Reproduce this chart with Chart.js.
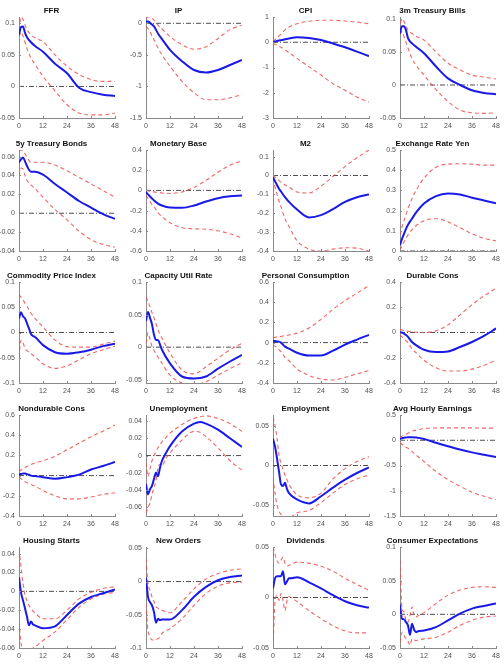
<!DOCTYPE html>
<html>
<head>
<meta charset="utf-8">
<script src="https://cdn.jsdelivr.net/npm/chart.js@4.4.1/dist/chart.umd.min.js"></script>
<style>
  html, body { margin: 0; padding: 0; background: #fff; }
  #page { position: relative; width: 504px; height: 672px; overflow: hidden; background: #fff; }
  #page canvas { position: absolute; }
</style>
</head>
<body>
<div id="page"></div>
<script>
// horizons (months) used for the sampled points
const monthsA = [0, 1, 2, 3, 4, 6, 8, 12, 18, 24, 30, 36, 42, 48];
const monthsB = [0, 1, 2, 3, 4, 5, 6, 7, 8, 12, 18, 24, 30, 36, 42, 48];
const monthsC = [0, 1, 2, 3, 4, 5, 6, 7, 8, 10, 12, 18, 24, 27, 30, 36, 42, 48];
const monthsD = [0, 1, 2, 3, 4, 5, 6, 7, 8, 9, 12, 18, 24, 30, 36, 42, 48];
const zeroMonths = [0, 48];
const zeroLine = [0, 0];
const xTicks = [0, 12, 24, 36, 48];

const ffrIrf = [0.082, 0.094, 0.095, 0.085, 0.078, 0.07, 0.064, 0.055, 0.036, 0.021, -0.002, -0.009, -0.013, -0.015];
const ffrUpper = [0.09, 0.11, 0.106, 0.098, 0.09, 0.082, 0.077, 0.071, 0.05, 0.032, 0.019, 0.011, 0.008, 0.008];
const ffrLower = [0.079, 0.086, 0.08, 0.07, 0.06, 0.045, 0.035, 0.016, -0.007, -0.029, -0.042, -0.045, -0.045, -0.042];
const ffrTicks = [-0.05, 0, 0.05, 0.1];

const ipIrf = [0.03, 0.03, 0.01, -0.02, -0.05, -0.16, -0.25, -0.42, -0.6, -0.74, -0.78, -0.74, -0.66, -0.58];
const ipUpper = [0.08, 0.1, 0.1, 0.08, 0.05, -0.03, -0.09, -0.21, -0.34, -0.41, -0.37, -0.24, -0.1, -0.03];
const ipLower = [-0.05, -0.08, -0.13, -0.2, -0.26, -0.39, -0.5, -0.68, -0.92, -1.1, -1.21, -1.21, -1.18, -1.13];
const ipTicks = [-1.5, -1, -0.5, 0];

const cpiIrf = [0, 0.03, 0.05, 0.07, 0.08, 0.12, 0.15, 0.2, 0.17, 0.09, -0.05, -0.2, -0.37, -0.55];
const cpiUpper = [0.03, 0.1, 0.18, 0.25, 0.32, 0.49, 0.6, 0.73, 0.83, 0.87, 0.87, 0.84, 0.8, 0.73];
const cpiLower = [-0.04, -0.08, -0.12, -0.16, -0.2, -0.3, -0.41, -0.64, -0.97, -1.3, -1.64, -1.9, -2.17, -2.37];
const cpiTicks = [-3, -2, -1, 0, 1];

const tbillIrf = [0.078, 0.089, 0.089, 0.083, 0.071, 0.063, 0.058, 0.048, 0.028, 0.01, 0, -0.008, -0.012, -0.014];
const tbillUpper = [0.093, 0.1, 0.096, 0.09, 0.083, 0.078, 0.074, 0.068, 0.05, 0.033, 0.023, 0.015, 0.012, 0.009];
const tbillLower = [0.076, 0.081, 0.073, 0.065, 0.056, 0.04, 0.03, 0.015, -0.007, -0.025, -0.038, -0.042, -0.043, -0.042];
const tbillTicks = [-0.05, 0, 0.05, 0.1];

const bondIrf = [0.054, 0.057, 0.059, 0.055, 0.05, 0.044, 0.044, 0.041, 0.031, 0.022, 0.013, 0.006, -0.001, -0.006];
const bondUpper = [0.066, 0.067, 0.066, 0.063, 0.059, 0.054, 0.054, 0.054, 0.051, 0.045, 0.038, 0.031, 0.024, 0.017];
const bondLower = [0.04, 0.048, 0.047, 0.04, 0.035, 0.03, 0.026, 0.017, 0.004, -0.007, -0.019, -0.028, -0.033, -0.036];
const bondTicks = [-0.04, -0.02, 0, 0.02, 0.04, 0.06];

const baseIrf = [-0.017, -0.04, -0.06, -0.08, -0.1, -0.13, -0.15, -0.17, -0.172, -0.15, -0.11, -0.077, -0.058, -0.05];
const baseUpper = [0, -0.005, -0.01, -0.013, -0.015, -0.02, -0.025, -0.03, -0.015, 0.03, 0.1, 0.18, 0.25, 0.29];
const baseLower = [-0.05, -0.08, -0.11, -0.14, -0.16, -0.22, -0.26, -0.32, -0.37, -0.38, -0.385, -0.4, -0.43, -0.47];
const baseTicks = [-0.6, -0.4, -0.2, 0, 0.2, 0.4];

const m2Irf = [-0.01, -0.03, -0.05, -0.07, -0.085, -0.115, -0.14, -0.18, -0.222, -0.21, -0.178, -0.14, -0.115, -0.1];
const m2Upper = [0.003, -0.008, -0.018, -0.027, -0.035, -0.05, -0.062, -0.087, -0.093, -0.057, -0.005, 0.047, 0.094, 0.135];
const m2Lower = [-0.015, -0.06, -0.1, -0.135, -0.165, -0.23, -0.27, -0.345, -0.39, -0.4, -0.39, -0.383, -0.385, -0.4];
const m2Ticks = [-0.4, -0.3, -0.2, -0.1, 0, 0.1];

const yenIrf = [0.03, 0.06, 0.085, 0.11, 0.13, 0.16, 0.19, 0.235, 0.272, 0.285, 0.28, 0.264, 0.25, 0.236];
const yenUpper = [0.08, 0.12, 0.15, 0.18, 0.21, 0.26, 0.3, 0.36, 0.415, 0.43, 0.432, 0.43, 0.425, 0.425];
const yenLower = [0.005, 0.025, 0.045, 0.063, 0.08, 0.105, 0.125, 0.15, 0.16, 0.145, 0.115, 0.085, 0.063, 0.05];
const yenTicks = [0, 0.1, 0.2, 0.3, 0.4, 0.5];

const commIrf = [0.028, 0.04, 0.032, 0.028, 0.018, 0.008, -0.003, -0.007, -0.009, -0.025, -0.039, -0.042, -0.039, -0.034, -0.027, -0.022];
const commUpper = [0.075, 0.07, 0.065, 0.058, 0.052, 0.045, 0.038, 0.033, 0.028, 0.011, -0.015, -0.028, -0.029, -0.029, -0.023, -0.017];
const commLower = [-0.049, -0.015, -0.02, -0.032, -0.036, -0.039, -0.042, -0.045, -0.048, -0.062, -0.071, -0.066, -0.054, -0.042, -0.034, -0.027];
const commTicks = [-0.1, -0.05, 0, 0.05, 0.1];

const capIrf = [0.04, 0.054, 0.045, 0.035, 0.019, 0.011, 0.011, 0.004, -0.004, -0.025, -0.045, -0.048, -0.045, -0.033, -0.022, -0.012];
const capUpper = [0.077, 0.07, 0.062, 0.053, 0.045, 0.036, 0.027, 0.02, 0.014, -0.009, -0.035, -0.041, -0.03, -0.017, -0.004, 0.006];
const capLower = [0.006, 0.022, 0.012, 0.001, -0.005, -0.01, -0.015, -0.02, -0.025, -0.043, -0.055, -0.058, -0.053, -0.043, -0.033, -0.024];
const capTicks = [-0.05, 0, 0.05, 0.1];

const pceIrf = [0.017, 0.015, 0.012, 0.01, 0, -0.04, -0.06, -0.1, -0.128, -0.128, -0.08, -0.02, 0.03, 0.077];
const pceUpper = [0.05, 0.052, 0.055, 0.058, 0.06, 0.07, 0.075, 0.094, 0.145, 0.23, 0.33, 0.415, 0.49, 0.565];
const pceLower = [-0.024, -0.035, -0.05, -0.07, -0.09, -0.148, -0.18, -0.26, -0.326, -0.36, -0.37, -0.343, -0.31, -0.276];
const pceTicks = [-0.4, -0.2, 0, 0.2, 0.4, 0.6];

const durIrf = [0, 0, -0.01, -0.02, -0.035, -0.075, -0.1, -0.137, -0.155, -0.15, -0.115, -0.075, -0.027, 0.032];
const durUpper = [0.024, 0.02, 0.016, 0.012, 0.01, 0.005, 0.002, 0, 0.013, 0.06, 0.14, 0.22, 0.29, 0.35];
const durLower = [-0.02, -0.035, -0.05, -0.065, -0.08, -0.13, -0.16, -0.22, -0.28, -0.305, -0.305, -0.29, -0.26, -0.22];
const durTicks = [-0.4, -0.2, 0, 0.2, 0.4];

const nondurIrf = [0.01, 0.015, 0.02, 0.02, 0.015, 0, -0.005, -0.016, -0.03, -0.015, 0.01, 0.06, 0.095, 0.134];
const nondurUpper = [0.04, 0.055, 0.07, 0.08, 0.09, 0.11, 0.125, 0.147, 0.19, 0.255, 0.32, 0.385, 0.44, 0.5];
const nondurLower = [-0.016, -0.03, -0.045, -0.06, -0.07, -0.088, -0.105, -0.147, -0.2, -0.23, -0.23, -0.212, -0.186, -0.17];
const nondurTicks = [-0.4, -0.2, 0, 0.2, 0.4, 0.6];

const unempIrf = [-0.033, -0.045, -0.039, -0.035, -0.027, -0.02, -0.024, -0.014, -0.006, 0.003, 0.011, 0.028, 0.037, 0.039, 0.037, 0.03, 0.02, 0.01];
const unempUpper = [-0.008, -0.024, -0.015, -0.006, 0, 0.005, 0.009, 0.013, 0.016, 0.021, 0.026, 0.036, 0.043, 0.045, 0.046, 0.043, 0.037, 0.028];
const unempLower = [-0.067, -0.06, -0.055, -0.045, -0.037, -0.029, -0.014, -0.01, -0.012, -0.003, 0.003, 0.018, 0.028, 0.027, 0.022, 0.009, -0.006, -0.017];
const unempTicks = [-0.06, -0.04, -0.02, 0, 0.02, 0.04];

const empIrf = [0.034, 0.024, 0.009, -0.0075, -0.024, -0.026, -0.022, -0.03, -0.035, -0.043, -0.048, -0.039, -0.028, -0.018, -0.0095, -0.0025];
const empUpper = [0.061, 0.051, 0.035, 0.013, 0.003, -0.005, -0.012, -0.018, -0.024, -0.037, -0.041, -0.035, -0.017, -0.004, 0.005, 0.011];
const empLower = [-0.015, -0.035, -0.05, -0.058, -0.062, -0.064, -0.065, -0.066, -0.066, -0.06, -0.057, -0.047, -0.035, -0.024, -0.017, -0.012];
const empTicks = [-0.05, 0, 0.05];

const wageIrf = [0.03, 0.04, 0.05, 0.055, 0.06, 0.06, 0.055, 0.026, -0.05, -0.12, -0.185, -0.24, -0.285, -0.33];
const wageUpper = [0.05, 0.08, 0.1, 0.12, 0.14, 0.18, 0.2, 0.23, 0.245, 0.245, 0.245, 0.245, 0.24, 0.24];
const wageLower = [-0.05, -0.08, -0.11, -0.14, -0.16, -0.22, -0.29, -0.42, -0.62, -0.78, -0.91, -1.03, -1.11, -1.18];
const wageTicks = [-1.5, -1, -0.5, 0, 0.5];

const houseIrf = [0.015, -0.001, -0.0095, -0.018, -0.027, -0.036, -0.032, -0.035, -0.036, -0.039, -0.037, -0.025, -0.013, -0.006, -0.002, 0.002];
const houseUpper = [0.045, 0.026, 0.008, -0.004, -0.01, -0.015, -0.018, -0.021, -0.023, -0.029, -0.029, -0.02, -0.008, -0.001, 0.003, 0.005];
const houseLower = [-0.032, -0.055, -0.06, -0.061, -0.062, -0.062, -0.061, -0.06, -0.059, -0.052, -0.043, -0.03, -0.017, -0.008, -0.003, -0.001];
const houseTicks = [-0.06, -0.04, -0.02, 0, 0.02, 0.04];

const ordersIrf = [0.006, -0.023, -0.031, -0.036, -0.046, -0.062, -0.056, -0.058, -0.057, -0.057, -0.043, -0.023, -0.008, 0.002, 0.007, 0.009];
const ordersUpper = [0.034, -0.003, -0.013, -0.023, -0.03, -0.038, -0.04, -0.042, -0.043, -0.047, -0.03, -0.011, 0.004, 0.012, 0.017, 0.019];
const ordersLower = [-0.033, -0.073, -0.083, -0.088, -0.088, -0.087, -0.086, -0.083, -0.078, -0.071, -0.056, -0.036, -0.018, -0.007, -0.002, -0.001];
const ordersTicks = [-0.1, -0.05, 0, 0.05];

const divIrf = [0.009, 0.019, 0.021, 0.021, 0.021, 0.026, 0.013, 0.016, 0.019, 0.019, 0.02, 0.015, 0.009, 0.0023, -0.0037, -0.0077, -0.01];
const divUpper = [0.05, 0.043, 0.036, 0.034, 0.037, 0.04, 0.034, 0.031, 0.032, 0.033, 0.035, 0.034, 0.031, 0.026, 0.019, 0.013, 0.007];
const divLower = [-0.05, -0.004, 0.002, -0.003, 0.004, -0.003, -0.013, -0.003, 0.001, 0, -0.004, -0.013, -0.021, -0.028, -0.033, -0.035, -0.035];
const divTicks = [-0.05, 0, 0.05];

const expIrf = [0.0145, -0.0065, -0.0075, -0.0115, -0.0165, -0.0305, -0.014, -0.0225, -0.0265, -0.025, -0.024, -0.019, -0.009, 0.001, 0.0085, 0.0125, 0.016];
const expUpper = [0.08, 0.0085, 0.0035, -0.009, -0.0115, -0.0015, 0.011, -0.0015, -0.004, -0.002, 0.0025, 0.016, 0.0285, 0.036, 0.04, 0.041, 0.04];
const expLower = [-0.0415, -0.0265, -0.0315, -0.0365, -0.04, -0.046, -0.0365, -0.038, -0.039, -0.038, -0.0365, -0.034, -0.0265, -0.0165, -0.009, -0.004, -0.0025];
const expTicks = [-0.05, 0, 0.05, 0.1];

const AXIS_COLOR = '#8a8a8a';
const LABEL_COLOR = '#505050';
const FONT = "'Liberation Sans', Arial, sans-serif";

// MATLAB style ticks point into the axes
const inwardTicks = {
    id: 'inwardTicks',
    afterDraw(chart) {
        const ctx = chart.ctx;
        const area = chart.chartArea;
        ctx.save();
        ctx.strokeStyle = AXIS_COLOR;
        ctx.lineWidth = 1;
        ctx.beginPath();
        chart.scales.x.ticks.forEach(t => {
            const px = Math.round(chart.scales.x.getPixelForValue(t.value)) + 0.5;
            ctx.moveTo(px, area.bottom);
            ctx.lineTo(px, area.bottom - 2);
        });
        chart.scales.y.ticks.forEach(t => {
            const py = Math.round(chart.scales.y.getPixelForValue(t.value)) + 0.5;
            ctx.moveTo(area.left, py);
            ctx.lineTo(area.left + 2, py);
        });
        ctx.stroke();
        ctx.restore();
    }
};

function toPoints(months, values) {
    return months.map((m, i) => ({ x: m, y: values[i] }));
}

function buildPanel(index, title, months, irf, upper, lower, yMin, yMax, yTicks) {
    const col = index % 4;
    const row = Math.floor(index / 4);
    const plotLeft = 19 + 127 * col;

    const canvas = document.createElement('canvas');
    canvas.width = 158;
    canvas.height = 133;
    canvas.style.left = (plotLeft - 31) + 'px';
    canvas.style.top = Math.round(132.5 * row) + 'px';
    document.getElementById('page').appendChild(canvas);

    const dashed = {
        borderColor: 'rgba(236, 76, 76, 0.85)',
        borderWidth: 1.1,
        borderDash: [4, 3],
        pointRadius: 0,
        cubicInterpolationMode: 'monotone',
        tension: 0.3
    };

    new Chart(canvas.getContext('2d'), {
        type: 'line',
        data: {
            datasets: [{
                data: toPoints(months, irf),
                borderColor: 'rgb(26, 26, 232)',
                borderWidth: 2,
                pointRadius: 0,
                cubicInterpolationMode: 'monotone',
                tension: 0.3
            }, Object.assign({ data: toPoints(months, upper) }, dashed),
               Object.assign({ data: toPoints(months, lower) }, dashed), {
                data: toPoints(zeroMonths, zeroLine),
                borderColor: '#3a3a3a',
                borderWidth: 0.9,
                borderDash: [5, 2, 1, 2],
                pointRadius: 0
            }]
        },
        options: {
            responsive: false,
            animation: false,
            devicePixelRatio: 1,
            layout: { padding: { right: 31, left: 0, top: 0, bottom: 0 } },
            plugins: {
                legend: { display: false },
                tooltip: { enabled: false },
                title: {
                    display: true,
                    text: title,
                    color: '#111',
                    font: { family: FONT, size: 8, weight: 'bold', lineHeight: 1.2 },
                    padding: { top: 6, bottom: 1.4 }
                }
            },
            scales: {
                x: {
                    type: 'linear',
                    min: 0,
                    max: 48,
                    afterBuildTicks: s => { s.ticks = xTicks.map(v => ({ value: v })); },
                    afterFit: s => { s.height = 15; },
                    grid: { display: false, drawTicks: false },
                    border: { display: true, color: AXIS_COLOR, width: 1 },
                    ticks: { color: LABEL_COLOR, padding: 4, maxRotation: 0, font: { family: FONT, size: 7 } }
                },
                y: {
                    type: 'linear',
                    min: yMin,
                    max: yMax,
                    afterBuildTicks: s => { s.ticks = yTicks.map(v => ({ value: v })); },
                    afterFit: s => { s.width = 31; },
                    grid: { display: false, drawTicks: false },
                    border: { display: true, color: AXIS_COLOR, width: 1 },
                    ticks: {
                        color: LABEL_COLOR,
                        padding: 4,
                        font: { family: FONT, size: 7 },
                        callback: v => String(v)
                    }
                }
            }
        },
        plugins: [inwardTicks]
    });
}

buildPanel(0, 'FFR', monthsA, ffrIrf, ffrUpper, ffrLower, -0.05, 0.11, ffrTicks);
buildPanel(1, 'IP', monthsA, ipIrf, ipUpper, ipLower, -1.5, 0.1, ipTicks);
buildPanel(2, 'CPI', monthsA, cpiIrf, cpiUpper, cpiLower, -3, 1, cpiTicks);
buildPanel(3, '3m Treasury Bills', monthsA, tbillIrf, tbillUpper, tbillLower, -0.05, 0.103, tbillTicks);
buildPanel(4, '5y Treasury Bonds', monthsA, bondIrf, bondUpper, bondLower, -0.04, 0.067, bondTicks);
buildPanel(5, 'Monetary Base', monthsA, baseIrf, baseUpper, baseLower, -0.6, 0.4, baseTicks);
buildPanel(6, 'M2', monthsA, m2Irf, m2Upper, m2Lower, -0.4, 0.135, m2Ticks);
buildPanel(7, 'Exchange Rate Yen', monthsA, yenIrf, yenUpper, yenLower, 0, 0.5, yenTicks);
buildPanel(8, 'Commodity Price Index', monthsB, commIrf, commUpper, commLower, -0.1, 0.1, commTicks);
buildPanel(9, 'Capacity Util Rate', monthsB, capIrf, capUpper, capLower, -0.055, 0.1, capTicks);
buildPanel(10, 'Personal Consumption', monthsA, pceIrf, pceUpper, pceLower, -0.4, 0.6, pceTicks);
buildPanel(11, 'Durable Cons', monthsA, durIrf, durUpper, durLower, -0.4, 0.4, durTicks);
buildPanel(12, 'Nondurable Cons', monthsA, nondurIrf, nondurUpper, nondurLower, -0.4, 0.6, nondurTicks);
buildPanel(13, 'Unemployment', monthsC, unempIrf, unempUpper, unempLower, -0.07, 0.047, unempTicks);
buildPanel(14, 'Employment', monthsB, empIrf, empUpper, empLower, -0.064, 0.064, empTicks);
buildPanel(15, 'Avg Hourly Earnings', monthsA, wageIrf, wageUpper, wageLower, -1.5, 0.5, wageTicks);
buildPanel(16, 'Housing Starts', monthsB, houseIrf, houseUpper, houseLower, -0.06, 0.047, houseTicks);
buildPanel(17, 'New Orders', monthsB, ordersIrf, ordersUpper, ordersLower, -0.1, 0.052, ordersTicks);
buildPanel(18, 'Dividends', monthsD, divIrf, divUpper, divLower, -0.05, 0.05, divTicks);
buildPanel(19, 'Consumer Expectations', monthsD, expIrf, expUpper, expLower, -0.05, 0.1, expTicks);
</script>
</body>
</html>
